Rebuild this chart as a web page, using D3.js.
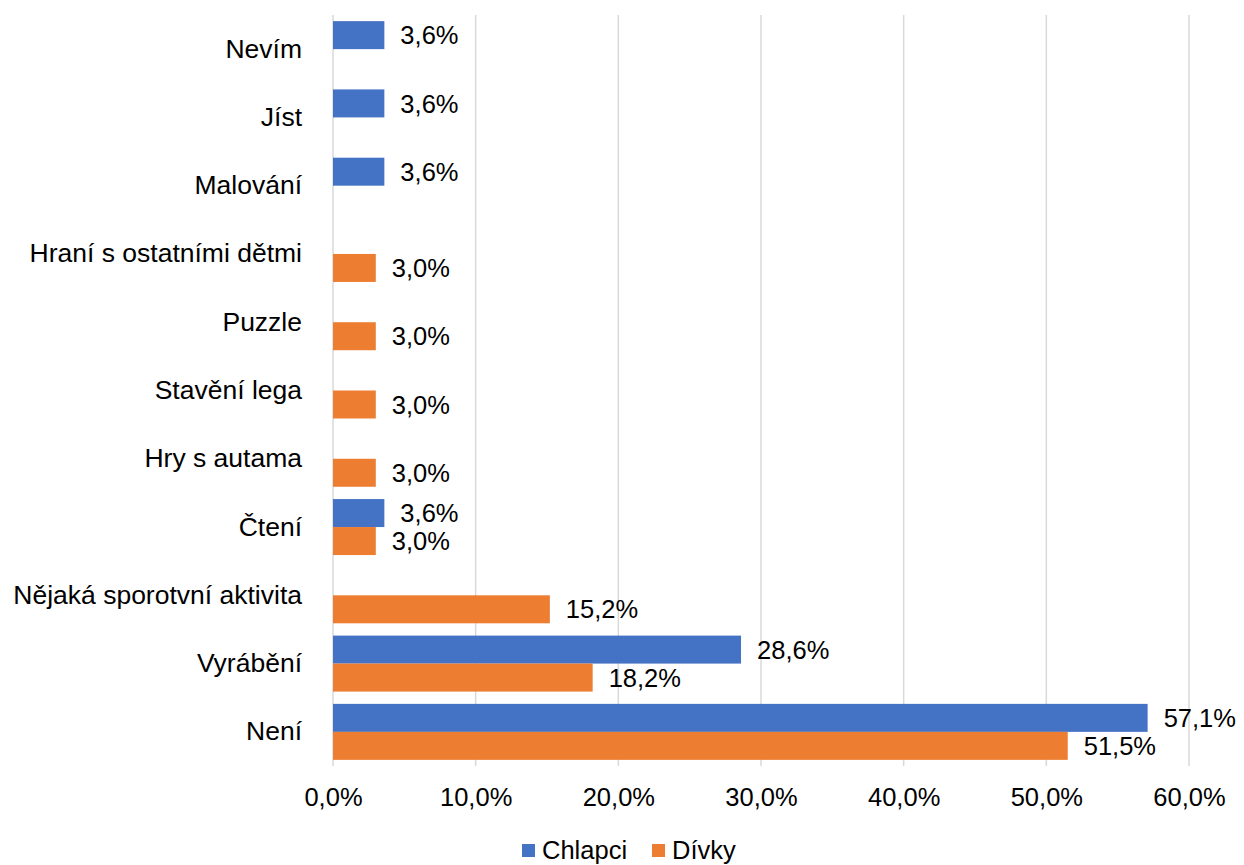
<!DOCTYPE html>
<html>
<head>
<meta charset="utf-8">
<script src="https://cdn.jsdelivr.net/npm/d3@7"></script>
<style>
  html, body { margin: 0; padding: 0; background: #fff; }
  svg { display: block; }
  text { font-family: "Liberation Sans", Arial, sans-serif; fill: #000; }
</style>
</head>
<body>
<svg id="chart" width="1244" height="865"></svg>
<script>
const categories = ["Nevím", "Jíst", "Malování", "Hraní s ostatními dětmi", "Puzzle", "Stavění lega", "Hry s autama", "Čtení", "Nějaká sporotvní aktivita", "Vyrábění", "Není"];
const seriesNames = ["Chlapci", "Dívky"];
const chlapci = [3.6, 3.6, 3.6, null, null, null, null, 3.6, null, 28.6, 57.1];
const divky   = [null, null, null, 3.0, 3.0, 3.0, 3.0, 3.0, 15.2, 18.2, 51.5];
const xTicks = [0, 10, 20, 30, 40, 50, 60];
const colors = ["#4472C4", "#ED7D31"];

(function () {
const series = [chlapci, divky];
const cz = d3.formatLocale({decimal: ",", thousands: "\u00a0", grouping: [3], currency: ["", " Kč"]});
const fmt = v => cz.format(".1f")(v) + "%";

const svg = d3.select("#chart");
const mLeft = 333, mRight = 1189, mTop = 15, mBottom = 766;
const fontSize = 25.5;
const catFontSize = 26.5;

const x = d3.scaleLinear().domain([0, 60]).range([mLeft, mRight]);
const y = d3.scaleBand().domain(categories).range([mTop, mBottom]).paddingInner(0.18).paddingOuter(0.09);
const ySub = d3.scaleBand().domain(seriesNames).range([0, y.bandwidth()]);

svg.append("g").selectAll("line").data(xTicks).join("line")
  .attr("x1", d => x(d)).attr("x2", d => x(d))
  .attr("y1", mTop).attr("y2", mBottom)
  .attr("stroke", "#d9d9d9").attr("stroke-width", 1.5);

series.forEach((vals, si) => {
  const data = categories.map((c, i) => ({c, v: vals[i]})).filter(d => d.v != null);
  const g = svg.append("g");
  g.selectAll("rect").data(data).join("rect")
    .attr("x", x(0))
    .attr("y", d => y(d.c) + ySub(seriesNames[si]))
    .attr("width", d => x(d.v) - x(0))
    .attr("height", ySub.bandwidth())
    .attr("fill", colors[si]);
  g.selectAll("text").data(data).join("text")
    .attr("x", d => x(d.v) + 16)
    .attr("y", d => y(d.c) + ySub(seriesNames[si]) + ySub.bandwidth() / 2)
    .attr("dy", "0.36em")
    .attr("font-size", fontSize)
    .text(d => fmt(d.v));
});

const yAxis = d3.axisLeft(y).tickSize(0).tickPadding(31);
const ya = svg.append("g").attr("transform", `translate(${mLeft},0)`).call(yAxis);
ya.select(".domain").remove();
ya.selectAll("text").attr("font-size", catFontSize).attr("font-family", "Liberation Sans, Arial, sans-serif").attr("fill", "#000");

const xAxis = d3.axisBottom(x).tickValues(xTicks).tickSize(0).tickPadding(22).tickFormat(d => fmt(d));
const xa = svg.append("g").attr("transform", `translate(0,${mBottom})`).call(xAxis);
xa.select(".domain").remove();
xa.selectAll("text").attr("font-size", fontSize).attr("font-family", "Liberation Sans, Arial, sans-serif").attr("fill", "#000");

const legendY = 850;
const legendItems = [{name: seriesNames[0], color: colors[0], x: 522}, {name: seriesNames[1], color: colors[1], x: 652}];
const lg = svg.append("g");
legendItems.forEach(it => {
  lg.append("rect").attr("x", it.x).attr("y", legendY - 6).attr("width", 13).attr("height", 13).attr("fill", it.color);
  lg.append("text").attr("x", it.x + 20).attr("y", legendY).attr("dy", "0.36em")
    .attr("font-size", fontSize).text(it.name);
});
})();
</script>
</body>
</html>
